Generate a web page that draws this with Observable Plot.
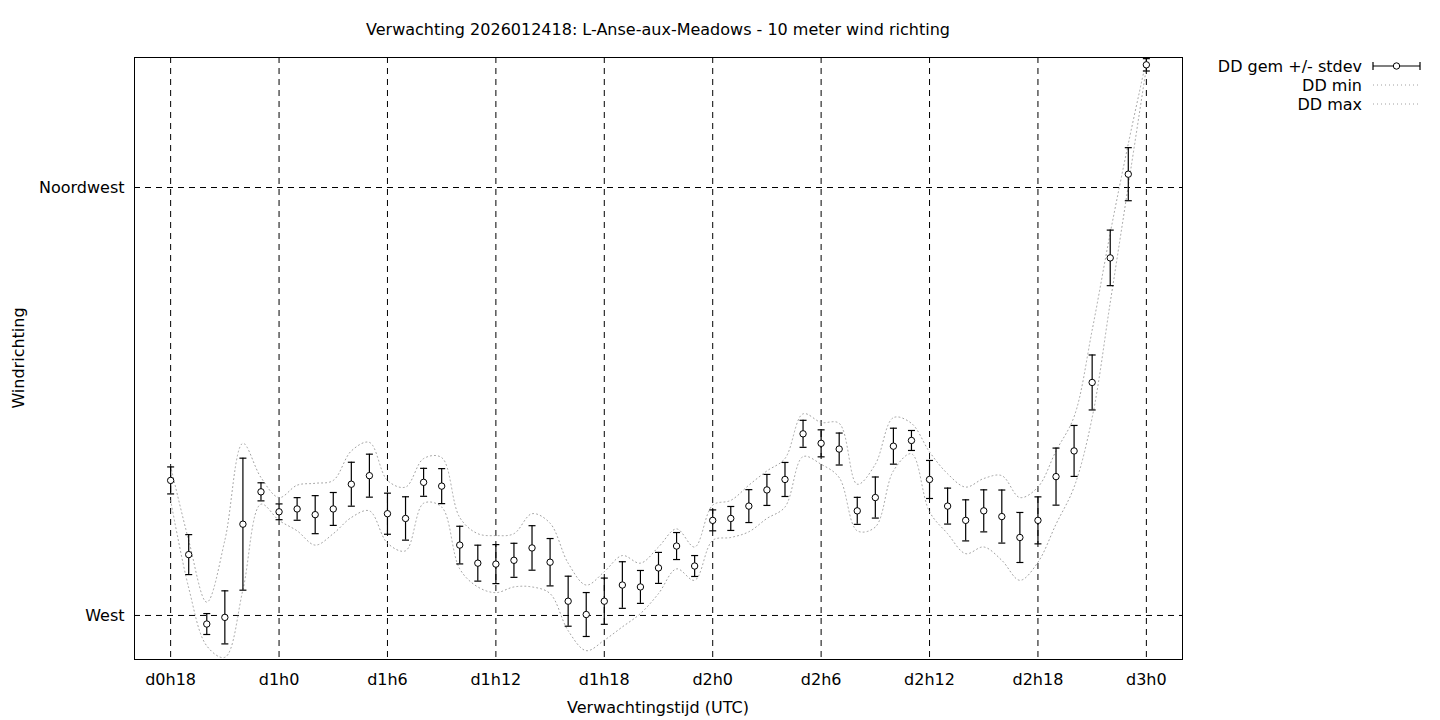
<!DOCTYPE html>
<html>
<head>
<meta charset="utf-8">
<script src="https://cdn.jsdelivr.net/npm/d3@7"></script>
<script src="https://cdn.jsdelivr.net/npm/@observablehq/plot@0.6"></script>
<style>
  html, body { margin: 0; padding: 0; background: #fff; }
  #wrap { position: relative; width: 1440px; height: 720px; font-family: "DejaVu Sans", sans-serif; color: #000; }
  #chart { position: absolute; left: 0; top: 0; }
  .lbl { position: absolute; font-size: 16px; white-space: nowrap; }
  #title { left: 658px; top: 29px; transform: translate(-50%, -50%); }
  #xlabel { left: 658px; top: 707px; transform: translate(-50%, -50%); }
  #ylabel { left: 18px; top: 358px; transform: translate(-50%, -50%) rotate(-90deg); }
  #legend { position: absolute; left: 1190px; top: 50px; }
</style>
</head>
<body>
<div id="wrap">
  <div id="chart"></div>
  <div class="lbl" id="title">Verwachting 2026012418: L-Anse-aux-Meadows - 10 meter wind richting</div>
  <div class="lbl" id="xlabel">Verwachtingstijd (UTC)</div>
  <div class="lbl" id="ylabel">Windrichting</div>
  <svg id="legend" width="250" height="70"></svg>
</div>
<script>
// Forecast hour offset from d0h18
const hours = [0,1,2,3,4,5,6,7,8,9,10,11,12,13,14,15,16,17,18,19,20,21,22,23,24,25,26,27,28,29,30,31,32,33,34,35,36,37,38,39,40,41,42,43,44,45,46,47,48,49,50,51,52,53,54];
// Mean wind direction (degrees)
const ddMean = [284.2,276.4,269.1,269.8,279.6,283.0,280.9,281.2,280.6,281.2,283.8,284.7,280.7,280.2,284.0,283.6,277.4,275.5,275.4,275.8,277.1,275.6,271.5,270.1,271.5,273.2,273.0,275.0,277.3,275.2,280.0,280.2,281.5,283.2,284.3,289.1,288.1,287.5,281.0,282.4,287.8,288.4,284.3,281.5,280.0,281.0,280.4,278.2,280.0,284.6,287.3,294.5,307.6,316.4,327.9];
// Standard deviation (degrees)
const ddStdev = [1.42,2.10,1.10,2.79,6.94,0.95,0.83,1.19,2.00,1.73,2.31,2.26,2.16,2.28,1.47,1.84,1.98,1.89,2.05,1.79,2.34,2.49,2.63,2.31,2.43,2.45,1.73,1.63,1.42,1.10,1.10,1.26,1.73,1.63,1.79,1.42,1.42,1.68,1.42,2.16,1.89,1.05,2.00,1.89,2.16,2.21,2.79,2.63,2.47,3.00,2.68,2.89,2.92,2.79,0.65];
// Minimum direction (degrees)
const ddMin = [282.1,272.9,266.8,265.6,272.7,281.7,280.0,278.9,277.4,278.6,280.3,281.0,277.6,276.8,281.8,281.4,274.9,273.0,272.4,273.0,273.0,272.3,268.4,266.3,267.4,268.8,270.2,272.3,274.9,273.7,277.9,278.2,278.8,280.2,281.4,286.7,285.9,284.5,278.9,279.3,285.2,287.0,280.9,278.6,276.5,277.2,275.8,273.7,275.6,279.6,283.5,290.8,302.9,315.2,327.6];
// Maximum direction (degrees)
const ddMax = [285.7,277.9,271.4,277.9,288.1,284.5,282.4,283.7,283.9,284.2,287.3,288.2,284.2,283.5,286.5,286.6,280.3,278.6,278.4,278.6,280.7,279.7,275.5,273.2,274.6,276.3,275.5,277.2,279.1,277.2,281.6,282.1,283.7,285.2,286.5,291.2,290.3,290.2,283.8,285.9,290.8,290.2,287.2,284.9,283.5,284.4,284.7,282.4,283.5,287.3,290.9,300.0,310.2,319.6,328.4];

const tickHours = [0,6,12,18,24,30,36,42,48,54];
const tickLabels = ["d0h18","d1h0","d1h6","d1h12","d1h18","d2h0","d2h6","d2h12","d2h18","d3h0"];
const yTicks = [270, 315];
const yTickLabels = ["West", "Noordwest"];

const data = hours.map((h, i) => ({
  h, mean: ddMean[i], lo: ddMean[i] - ddStdev[i], hi: ddMean[i] + ddStdev[i], min: ddMin[i], max: ddMax[i]
}));

const cap = { draw(ctx) { ctx.moveTo(-3.5, 0); ctx.lineTo(3.5, 0); } };
const dash = "6,5";
const dotted = "1,3";
const grey = "#a0a0a0";

const chart = Plot.plot({
  width: 1440, height: 720,
  marginLeft: 134, marginRight: 258, marginTop: 57, marginBottom: 61,
  style: { fontFamily: "DejaVu Sans", fontSize: "16px", color: "black", background: "white" },
  x: { domain: [-2, 56], ticks: tickHours, tickFormat: d => tickLabels[tickHours.indexOf(d)], tickSize: 0, tickPadding: 14, label: null },
  y: { domain: [265.37, 328.67], ticks: yTicks, tickFormat: d => yTickLabels[yTicks.indexOf(d)], tickSize: 0, tickPadding: 10, label: null },
  marks: [
    Plot.ruleX(tickHours, { stroke: "black", strokeDasharray: dash, strokeWidth: 1 }),
    Plot.ruleY(yTicks, { stroke: "black", strokeDasharray: dash, strokeWidth: 1 }),
    Plot.line(data, { x: "h", y: "min", curve: "catmull-rom", stroke: grey, strokeWidth: 1, strokeDasharray: dotted, clip: true }),
    Plot.line(data, { x: "h", y: "max", curve: "catmull-rom", stroke: grey, strokeWidth: 1, strokeDasharray: dotted, clip: true }),
    Plot.ruleX(data, { x: "h", y1: "lo", y2: "hi", stroke: "black", strokeWidth: 1.2 }),
    Plot.dot(data, { x: "h", y: "lo", symbol: cap, stroke: "black", strokeWidth: 1.2, fill: "none" }),
    Plot.dot(data, { x: "h", y: "hi", symbol: cap, stroke: "black", strokeWidth: 1.2, fill: "none" }),
    Plot.dot(data, { x: "h", y: "mean", r: 3.2, fill: "white", stroke: "black", strokeWidth: 1 }),
    Plot.frame({ stroke: "black", strokeWidth: 1 })
  ]
});
document.getElementById("chart").appendChild(chart);

// Legend
const lg = d3.select("#legend");
const rows = [
  { label: "DD gem +/- stdev", type: "err" },
  { label: "DD min", type: "dot" },
  { label: "DD max", type: "dot" }
];
rows.forEach((r, i) => {
  const y = 16 + i * 19;
  lg.append("text").attr("x", 172).attr("y", y).attr("text-anchor", "end").attr("dominant-baseline", "central")
    .attr("font-family", "DejaVu Sans").attr("font-size", 16).text(r.label);
  if (r.type === "err") {
    lg.append("line").attr("x1", 183).attr("x2", 230).attr("y1", y).attr("y2", y).attr("stroke", "black").attr("stroke-width", 1.2);
    lg.append("line").attr("x1", 183).attr("x2", 183).attr("y1", y - 4).attr("y2", y + 4).attr("stroke", "black").attr("stroke-width", 1.2);
    lg.append("line").attr("x1", 230).attr("x2", 230).attr("y1", y - 4).attr("y2", y + 4).attr("stroke", "black").attr("stroke-width", 1.2);
    lg.append("circle").attr("cx", 206.5).attr("cy", y).attr("r", 3.2).attr("fill", "white").attr("stroke", "black");
  } else {
    lg.append("line").attr("x1", 183).attr("x2", 230).attr("y1", y).attr("y2", y).attr("stroke", grey).attr("stroke-dasharray", dotted);
  }
});
</script>
</body>
</html>
